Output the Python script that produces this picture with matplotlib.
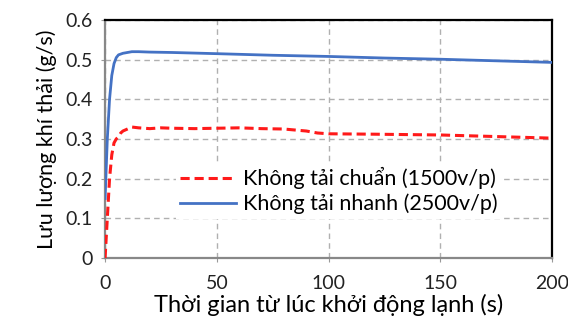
import matplotlib
matplotlib.use("Agg")
import matplotlib.pyplot as plt

plt.rcParams["font.family"] = ["Lato", "Open Sans", "DejaVu Sans"]

# time (s) and exhaust mass flow (g/s)
t_std = [0, 1, 2, 3, 4, 5, 6, 7, 8, 10, 12, 15, 20, 25, 30, 40, 50, 60, 70, 80, 90, 95, 100, 120, 150, 175, 200]
q_std = [0.0, 0.10, 0.20, 0.26, 0.29, 0.30, 0.305, 0.315, 0.32, 0.325, 0.33, 0.328, 0.326, 0.328, 0.327, 0.326, 0.327, 0.328, 0.326, 0.325, 0.32, 0.315, 0.313, 0.312, 0.31, 0.306, 0.302]

t_fast = [0, 1, 2, 3, 4, 5, 6, 8, 10, 12, 15, 20, 30, 50, 75, 100, 125, 150, 175, 200]
q_fast = [0.15, 0.30, 0.40, 0.46, 0.49, 0.505, 0.512, 0.516, 0.518, 0.52, 0.52, 0.519, 0.518, 0.515, 0.511, 0.508, 0.504, 0.501, 0.497, 0.493]

labels = ["Không tải chuẩn (1500v/p)", "Không tải nhanh (2500v/p)"]
x_ticks = [0, 50, 100, 150, 200]
y_ticks = [0, 0.1, 0.2, 0.3, 0.4, 0.5, 0.6]
y_ticklabels = ["0", "0.1", "0.2", "0.3", "0.4", "0.5", "0.6"]

fig = plt.figure(figsize=(5.68, 3.22), dpi=100)
ax = fig.add_axes([0.185, 0.199, 0.787, 0.739])

ax.plot(t_std, q_std, color="#ff1a1a", linestyle=(0, (3, 1.6)), linewidth=2.2, label=labels[0], zorder=3)
ax.plot(t_fast, q_fast, color="#4472c4", linewidth=2.0, label=labels[1], zorder=3)

ax.set_xlim(0, 200)
ax.set_ylim(0, 0.6)
ax.set_xticks(x_ticks)
ax.set_xticklabels([str(v) for v in x_ticks])
ax.set_yticks(y_ticks)
ax.set_yticklabels(y_ticklabels)
ax.tick_params(labelsize=14, labelcolor="#222222", color="#999999", length=3, direction="out")
ax.tick_params(axis="x", pad=9)
ax.tick_params(axis="y", pad=6)

ax.set_axisbelow(True)
ax.grid(True, which="major", color="#b0b0b0", linestyle=(0, (4, 3)), linewidth=1.0)
for s in ["top", "right"]:
    ax.spines[s].set_color("black")
    ax.spines[s].set_linewidth(1.6)
for s in ["left", "bottom"]:
    ax.spines[s].set_color("#888888")
    ax.spines[s].set_linewidth(1.6)

ax.set_xlabel("Thời gian từ lúc khởi động lạnh (s)", fontsize=17, labelpad=2)
ax.set_ylabel("Lưu lượng khí thải (g/s)", fontsize=15.5, labelpad=6)

leg = ax.legend(loc="lower left", bbox_to_anchor=(0.135, 0.12), frameon=True, fontsize=15.5,
                handlelength=2.6, handletextpad=0.3, labelspacing=0.2, borderpad=0.2,
                facecolor="white", edgecolor="none", framealpha=1.0, fancybox=False)

fig.savefig("out.png", dpi=100)
